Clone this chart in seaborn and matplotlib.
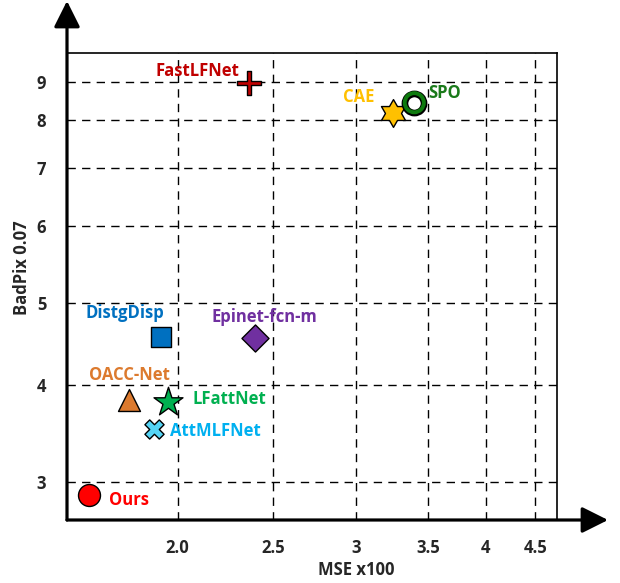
import numpy as np
import matplotlib
matplotlib.use("Agg")
import matplotlib.pyplot as plt
from matplotlib.path import Path
import seaborn as sns
import pandas as pd

# ---- data -------------------------------------------------------------
methods = ["Ours", "OACC-Net", "LFattNet", "AttMLFNet", "DistgDisp",
           "Epinet-fcn-m", "FastLFNet", "CAE", "SPO"]
mse_x100 = [1.625, 1.786, 1.954, 1.894, 1.922, 2.395, 2.364, 3.244, 3.397]
badpix_007 = [2.884, 3.826, 3.806, 3.506, 4.554, 4.549, 8.97, 8.167, 8.437]

x_ticks = [2.0, 2.5, 3, 3.5, 4, 4.5]
x_tick_labels = ["2.0", "2.5", "3", "3.5", "4", "4.5"]
y_ticks = [3, 4, 5, 6, 7, 8, 9]
y_tick_labels = ["3", "4", "5", "6", "7", "8", "9"]

df = pd.DataFrame({"method": methods, "mse": mse_x100, "badpix": badpix_007})

# ---- styling ----------------------------------------------------------
sns.set_style("white")
plt.rcParams["font.family"] = ["Open Sans", "DejaVu Sans"]
plt.rcParams["font.weight"] = "bold"
FS = 12

W, H, DPI = 620, 583, 100
fig = plt.figure(figsize=(W / DPI, H / DPI), dpi=DPI)
ax_left, ax_right, ax_top, ax_bottom = 67, 556.7, 52.5, 520
ax = fig.add_axes([ax_left / W, (H - ax_bottom) / H,
                   (ax_right - ax_left) / W, (ax_bottom - ax_top) / H])


def warped_log(values, positions):
    """Piecewise log mapping through the given tick knots (linear extrapolation)."""
    lk = np.log(np.asarray(values, float))
    p = np.asarray(positions, float)
    s0 = (p[1] - p[0]) / (lk[1] - lk[0])
    s1 = (p[-1] - p[-2]) / (lk[-1] - lk[-2])

    def fwd(v):
        l = np.log(np.clip(np.asarray(v, float), 1e-9, None))
        out = np.interp(l, lk, p)
        out = np.where(l < lk[0], p[0] + (l - lk[0]) * s0, out)
        return np.where(l > lk[-1], p[-1] + (l - lk[-1]) * s1, out)

    def inv(q):
        q = np.asarray(q, float)
        l = np.interp(q, p, lk)
        l = np.where(q < p[0], lk[0] + (q - p[0]) / s0, l)
        l = np.where(q > p[-1], lk[-1] + (q - p[-1]) / s1, l)
        return np.exp(l)

    return fwd, inv


xf, xi = warped_log(x_ticks, [177.7, 273.3, 356, 428.3, 485.7, 535.3])
yf, yi = warped_log(y_ticks, [H - v for v in [481.7, 385, 303, 226, 167.7, 120, 81.7]])
ax.set_xscale("function", functions=(xf, xi))
ax.set_yscale("function", functions=(yf, yi))
ax.set_xlim(float(xi(ax_left)), float(xi(ax_right)))
ax.set_ylim(float(yi(H - ax_bottom)), float(yi(H - ax_top)))

ax.set_xticks(x_ticks)
ax.set_xticklabels(x_tick_labels)
ax.set_yticks(y_ticks)
ax.set_yticklabels(y_tick_labels)
ax.xaxis.set_minor_locator(matplotlib.ticker.NullLocator())
ax.yaxis.set_minor_locator(matplotlib.ticker.NullLocator())
ax.tick_params(axis="x", length=0, pad=14, labelsize=FS)
ax.tick_params(axis="y", length=0, pad=15, labelsize=FS)
for t in ax.get_xticklabels() + ax.get_yticklabels():
    t.set_fontweight("bold")

ax.grid(True, color="black", linestyle=(0, (6, 4.5)), linewidth=1.0)
ax.set_axisbelow(True)

for side in ("top", "right"):
    ax.spines[side].set_linewidth(1.2)
    ax.spines[side].set_color("black")
for side in ("left", "bottom"):
    ax.spines[side].set_visible(False)

# axis arrows
arrow_kw = dict(arrowstyle="-|>,head_length=0.8,head_width=0.4", color="black",
                lw=2.3, shrinkA=0, shrinkB=0, mutation_scale=20)
ax.annotate("", xy=(0, (ax_bottom - 1) / (ax_bottom - ax_top)), xytext=(0, 0),
            xycoords="axes fraction", arrowprops=arrow_kw, annotation_clip=False)
ax.annotate("", xy=((608 - ax_left) / (ax_right - ax_left), 0), xytext=(0, 0),
            xycoords="axes fraction", arrowprops=arrow_kw, annotation_clip=False)

# custom marker shapes
hex_verts = []
for k in range(12):
    ang = np.pi / 2 + k * np.pi / 6
    r = 1.0 if k % 2 == 0 else 1 / np.sqrt(3)
    hex_verts.append((r * np.cos(ang), r * np.sin(ang)))
hex_verts.append(hex_verts[0])
hexagram = Path(hex_verts, closed=True)

a = 0.14
plus_verts = [(-a, 1), (a, 1), (a, a), (1, a), (1, -a), (a, -a), (a, -1),
              (-a, -1), (-a, -a), (-1, -a), (-1, a), (-a, a), (-a, 1)]
thin_plus = Path(plus_verts, closed=True)

style = {
    "Ours":         dict(marker="o", s=250, color="#FF0000", lw=1.0),
    "OACC-Net":     dict(marker="^", s=250, color="#DC7A2E", lw=1.0),
    "LFattNet":     dict(marker="*", s=480, color="#00B050", lw=1.0),
    "AttMLFNet":    dict(marker="X", s=190, color="#55D4F5", lw=1.0),
    "DistgDisp":    dict(marker="s", s=215, color="#0070C0", lw=1.0),
    "Epinet-fcn-m": dict(marker="D", s=190, color="#7030A0", lw=1.0),
    "FastLFNet":    dict(marker=thin_plus, s=290, color="#C00000", lw=1.0),
    "CAE":          dict(marker=hexagram, s=400, color="#FFC000", lw=1.0),
}

for name, st in style.items():
    sub = df[df["method"] == name]
    sns.scatterplot(data=sub, x="mse", y="badpix", ax=ax, marker=st["marker"],
                    s=st["s"], color=st["color"], edgecolor="black",
                    linewidth=st["lw"], zorder=5, legend=False)

# SPO: hollow green ring with dark outline
spo = df[df["method"] == "SPO"]
sns.scatterplot(data=spo, x="mse", y="badpix", ax=ax, marker="o", s=190,
                facecolor="white", edgecolor="black", linewidth=4.8, zorder=5,
                legend=False)
sns.scatterplot(data=spo, x="mse", y="badpix", ax=ax, marker="o", s=190,
                facecolor="none", edgecolor="#0E7A0E", linewidth=2.8, zorder=6,
                legend=False)

# method labels
labels = {
    "Ours":         ("#FF0000", (20.6, -5), "left"),
    "OACC-Net":     ("#DC7A2E", (0, 25), "center"),
    "LFattNet":     ("#00B050", (25, 2.4), "left"),
    "AttMLFNet":    ("#00B0F0", (15.7, -1.4), "left"),
    "DistgDisp":    ("#0070C0", (-35.7, 24.6), "center"),
    "Epinet-fcn-m": ("#7030A0", (9, 21), "center"),
    "FastLFNet":    ("#C00000", (-10, 12), "right"),
    "CAE":          ("#FFC000", (-34, 16.6), "center"),
    "SPO":          ("#1A7A1A", (13.7, 10), "left"),
}
for name, x, y in zip(methods, mse_x100, badpix_007):
    col, off, ha = labels[name]
    ax.annotate(name, (x, y), xytext=off, textcoords="offset pixels",
                ha=ha, va="center", color=col, fontsize=FS,
                fontweight="bold", zorder=7)

ax.set_xlabel("")
ax.set_ylabel("")
fig.text(356 / W, 1 - 570 / H, "MSE x100", ha="center", va="center",
         fontsize=FS, fontweight="bold")
fig.text(21.7 / W, 1 - 268 / H, "BadPix 0.07", ha="center", va="center",
         rotation=90, fontsize=FS, fontweight="bold")

fig.savefig("out.png", dpi=DPI)
